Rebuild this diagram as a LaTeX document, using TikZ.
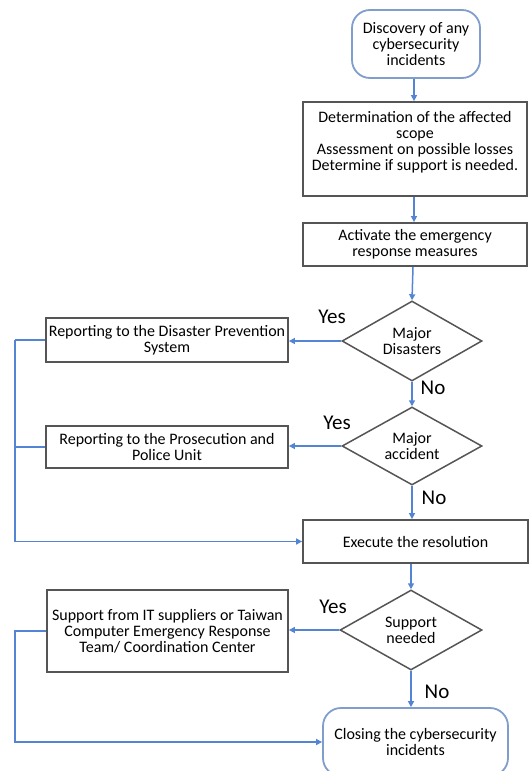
\documentclass[tikz,border=0pt]{standalone}
\usepackage{fontspec}
\setmainfont{Carlito}
\usetikzlibrary{shapes.geometric,arrows.meta}
\definecolor{flow}{RGB}{84,132,212}
\definecolor{boxline}{RGB}{85,85,85}
\definecolor{roundline}{RGB}{128,158,204}
\begin{document}
\begin{tikzpicture}[x=1pt,y=-1pt,
  txt/.style={font=\fontsize{16}{16}\selectfont, align=center},
  procbox/.style={txt, draw=boxline, line width=1.8pt, rectangle, inner sep=0pt},
  endbox/.style={txt, draw=roundline, line width=1.8pt, rectangle, rounded corners=18pt, inner sep=0pt},
  decision/.style={txt, draw=boxline, line width=1.5pt, diamond, inner sep=0pt, aspect=1.75},
  lab/.style={font=\fontsize{21}{22}\selectfont},
  flowline/.style={draw=flow, line width=1.5pt},
  flowarrow/.style={flowline, -{Triangle[length=6pt,width=6pt]}}
]
\useasboundingbox (0,0) rectangle (528,771);

\node[endbox, minimum width=128, minimum height=68] (start) at (416,44) {Discovery of any\\cybersecurity\\incidents};
\node[procbox, minimum width=224, minimum height=94] (assess) at (415,149) {Determination of the affected\\scope\\Assessment on possible losses\\Determine if support is needed.\\ };
\node[procbox, minimum width=224, minimum height=43] (activate) at (415,244.5) {Activate the emergency\\response measures};
\node[decision, minimum width=140, minimum height=80] (d1) at (412,341) {Major\\Disasters};
\node[procbox, minimum width=242, minimum height=44] (r1) at (167,340) {Reporting to the Disaster Prevention\\System};
\node[decision, minimum width=140, minimum height=78] (d2) at (412,446) {Major\\accident};
\node[procbox, minimum width=242, minimum height=42] (r2) at (167,447) {Reporting to the Prosecution and\\Police Unit};
\node[procbox, minimum width=225, minimum height=43] (exec) at (415.5,541.5) {Execute the resolution};
\node[decision, minimum width=142, minimum height=80] (d3) at (411,630) {Support\\needed};
\node[procbox, minimum width=241, minimum height=82] (r3) at (167.5,631) {Support from IT suppliers or Taiwan\\Computer Emergency Response\\Team/ Coordination Center};
\node[endbox, minimum width=185, minimum height=68] (close) at (415.5,742) {Closing the cybersecurity\\incidents};

\node[lab] (y1) at (332,317) {Yes};
\node[lab] (n1) at (433,388) {No};
\node[lab] (y2) at (337,423) {Yes};
\node[lab] (n2) at (434,498) {No};
\node[lab] (y3) at (333,607) {Yes};
\node[lab] (n3) at (437,692) {No};

\coordinate (busA) at (15,340);
\coordinate (busB) at (15,631);

\draw[flowarrow] (start.south -| 414,0) -- (assess.north -| 414,0);
\draw[flowarrow] (assess.south -| 414,0) -- (activate.north -| 414,0);
\draw[flowarrow] (activate.south -| 413,0) -- (d1.north);
\draw[flowarrow] (d1.west) -- (r1.east |- d1.west);
\draw[flowarrow] (d1.south) -- (d2.north);
\draw[flowarrow] (d2.west) -- (r2.east |- d2.west);
\draw[flowarrow] (d2.south) -- (exec.north -| d2.south);
\draw[flowarrow] (exec.south -| d3.north) -- (d3.north);
\draw[flowarrow] (d3.west) -- (r3.east |- d3.west);
\draw[flowarrow] (d3.south) -- (close.north -| d3.south);

\draw[flowline] (r1.west) -- (busA);
\draw[flowarrow] (busA) |- (exec.west);
\draw[flowline] (r2.west) -- (r2.west -| busA);
\draw[flowarrow] (r3.west) -- (busB) |- (close.west);
\end{tikzpicture}
\end{document}
